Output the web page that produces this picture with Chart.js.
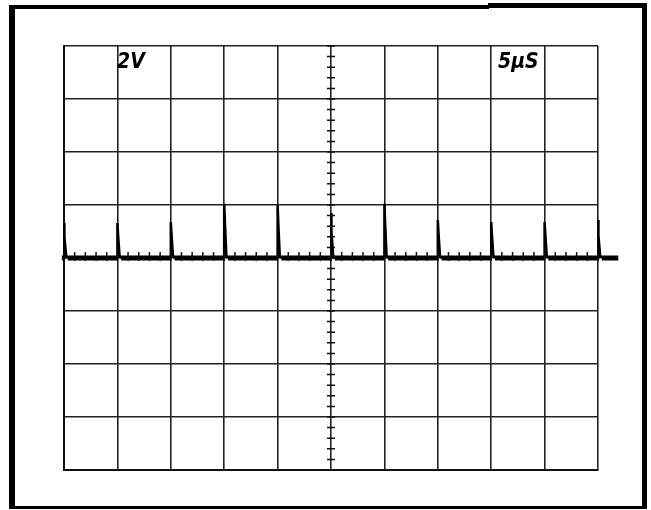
<!DOCTYPE html>
<html>
<head>
<meta charset="utf-8">
<script src="https://cdn.jsdelivr.net/npm/chart.js@4.4.1/dist/chart.umd.min.js"></script>
<style>
    html, body { margin: 0; padding: 0; background: #fff; }
    #wrap { width: 651px; height: 510px; }
</style>
</head>
<body>
<div id="wrap"><canvas id="scope"></canvas></div>
<script>
// time axis in µs (5 µs / div), voltage in V (2 V / div)
let spikeTimes = [0, 5, 10, 15, 20, 25, 30, 35, 40, 45, 50];
let spikeHeights = [1.32, 1.32, 1.36, 2.05, 2.0, 1.7, 2.05, 1.43, 1.36, 1.36, 1.43];
let traceStart = -0.2;
let traceEnd = 51.9;
let voltLabel = "2V";
let timeLabel = "5µS";

// build the trace: flat baseline with a sharp spike at every pulse
let trace = [{ x: traceStart, y: 0 }];
spikeTimes.forEach((t, i) => {
    let h = spikeHeights[i];
    trace.push({ x: t, y: 0 });
    trace.push({ x: t, y: h });
    trace.push({ x: t + 0.08, y: h * 0.6 });
    trace.push({ x: t + 0.2, y: 0.1 });
    trace.push({ x: t + 0.35, y: 0 });
});
trace.push({ x: traceEnd, y: 0 });

// bezel + graticule extras (frame, centre-axis minor ticks, labels)
const scopeFrame = {
    id: "scopeFrame",
    beforeDraw(chart) {
        let c = chart.ctx;
        c.save();
        c.fillStyle = "#fff";
        c.fillRect(0, 0, chart.width, chart.height);
        c.fillStyle = "#000";
        c.fillRect(9, 5, 6, 504);     // left
        c.fillRect(9, 5, 480, 4);     // top left part
        c.fillRect(488, 3, 159, 5);   // top right part
        c.fillRect(642, 3, 5, 506);   // right
        c.fillRect(9, 506, 638, 3);   // bottom
        c.restore();
    },
    afterDatasetsDraw(chart) {
        let c = chart.ctx;
        let xs = chart.scales.x, ys = chart.scales.y;
        let cx = xs.getPixelForValue(25);
        let cy = ys.getPixelForValue(0);
        c.save();
        c.strokeStyle = "#111";
        c.lineWidth = 1.5;
        c.beginPath();
        for (let v = -8; v <= 8.001; v += 0.4) {
            let y = ys.getPixelForValue(v);
            c.moveTo(cx - 4, y);
            c.lineTo(cx + 4, y);
        }
        for (let t = 0; t <= 50.001; t += 1) {
            let x = xs.getPixelForValue(t);
            c.moveTo(x, cy - 6);
            c.lineTo(x, cy + 3);
        }
        c.stroke();
        c.fillStyle = "#000";
        c.font = "italic bold 21px 'DejaVu Sans Condensed', 'DejaVu Sans'";
        c.textBaseline = "alphabetic";
        c.fillText(voltLabel, 117, 68);
        c.fillText(timeLabel, 498, 68);
        c.restore();
    }
};

new Chart(document.getElementById("scope"), {
    type: "scatter",
    data: {
        datasets: [{
            data: trace,
            showLine: true,
            borderColor: "#000",
            borderWidth: 5,
            borderJoinStyle: "miter",
            pointRadius: 0,
            tension: 0,
            clip: false,
            segment: {
                // spikes are thinner than the flat baseline
                borderWidth: ctx => ctx.p0.parsed.y !== ctx.p1.parsed.y ? 2.5 : 5
            }
        }]
    },
    options: {
        responsive: true,
        maintainAspectRatio: false,
        animation: false,
        layout: { padding: { left: 64, top: 46, right: 53, bottom: 40 } },
        plugins: { legend: { display: false }, tooltip: { enabled: false } },
        scales: {
            x: {
                type: "linear",
                // range set after data limits so the trace is not cut at the edge
                afterDataLimits: s => { s.min = 0; s.max = 50; },
                ticks: { display: false, stepSize: 5 },
                grid: { color: "#222", lineWidth: 1.6, drawTicks: false },
                border: { color: "#111", width: 2 }
            },
            y: {
                type: "linear",
                min: -8, max: 8,
                ticks: { display: false, stepSize: 2 },
                grid: { color: "#222", lineWidth: 1.6, drawTicks: false },
                border: { color: "#111", width: 2 }
            }
        }
    },
    plugins: [scopeFrame]
});
</script>
</body>
</html>
